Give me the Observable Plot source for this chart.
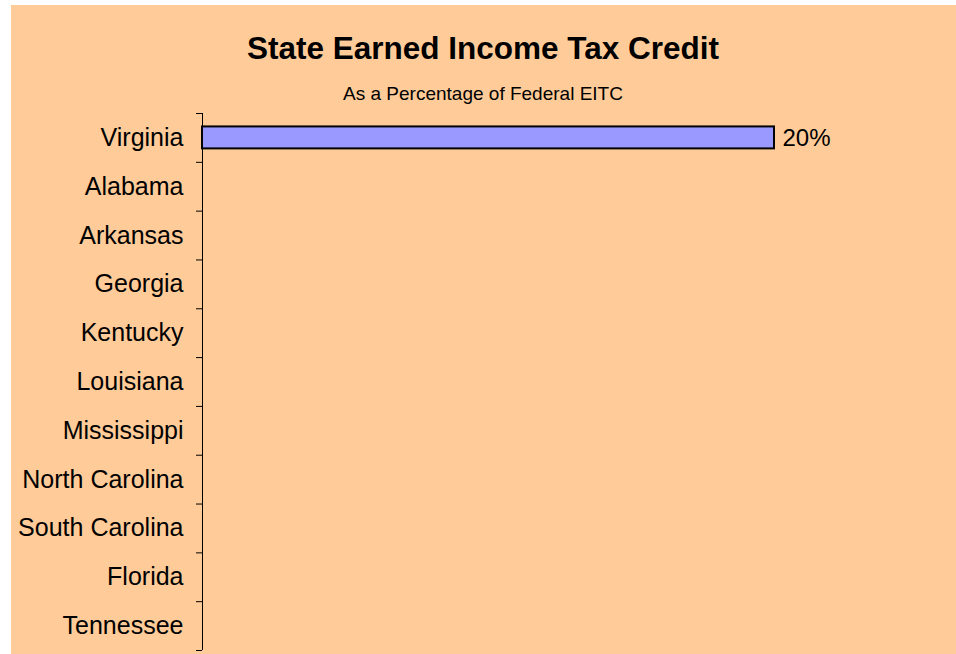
<!DOCTYPE html>
<html>
<head>
<meta charset="utf-8">
<script src="https://cdn.jsdelivr.net/npm/d3@7"></script>
<script src="https://cdn.jsdelivr.net/npm/@observablehq/plot@0.6"></script>
<style>
  html, body { margin: 0; padding: 0; background: #ffffff; width: 956px; height: 654px; overflow: hidden; }
  #wrap { position: absolute; left: 11px; top: 5px; width: 945px; height: 649px; background: #FFCC99; }
  #title { position: absolute; left: 0; top: 0; width: 966px; font: bold 31.5px "Liberation Sans", Arial, sans-serif; line-height: 30px; text-align: center; color: #000; }
  #subtitle { position: absolute; left: 0; top: 0; width: 966px; font: 19px "Liberation Sans", Arial, sans-serif; line-height: 19px; text-align: center; color: #000; }
  #chart { position: absolute; left: 0; top: 100px; }
</style>
</head>
<body>
<div id="wrap"></div>
<div id="title" style="top:33px">State Earned Income Tax Credit</div>
<div id="subtitle" style="top:84px">As a Percentage of Federal EITC</div>
<div id="chart"></div>
<script>
const states = ["Virginia", "Alabama", "Arkansas", "Georgia", "Kentucky", "Louisiana", "Mississippi", "North Carolina", "South Carolina", "Florida", "Tennessee"];
const credits = [0.20, 0, 0, 0, 0, 0, 0, 0, 0, 0, 0];
const valueLabels = ["20%", "", "", "", "", "", "", "", "", "", ""];

const data = states.map((s, i) => ({state: s, value: credits[i], label: valueLabels[i]}));

const W = 956, H = 554, mt = 13, mb = 4, ml = 202, mr = 182;
const step = (H - mt - mb) / states.length;

const chart = Plot.plot({
  width: W,
  height: H,
  marginTop: mt,
  marginBottom: mb,
  marginLeft: ml,
  marginRight: mr,
  style: {background: "transparent", fontFamily: "'Liberation Sans', Arial, sans-serif", fontSize: "25px", color: "#000"},
  x: {domain: [0, 0.2], axis: null},
  y: {domain: states, paddingInner: 0.55, paddingOuter: 0.275, round: false, axis: null, label: null},
  marks: [
    Plot.barX(data.filter(d => d.value > 0), {x: "value", y: "state", fill: "#9999FF", stroke: "#000", strokeWidth: 2}),
    Plot.ruleX([0], {stroke: "#000", strokeWidth: 1}),
    Plot.axisY({tickSize: 0, tickPadding: 19, fontSize: 25, fill: "#000", label: null}),
    Plot.axisY({tickSize: 6, tickFormat: () => "", dy: -step / 2, stroke: "#000", strokeOpacity: 1, label: null}),
    Plot.axisY({ticks: [states[states.length - 1]], tickSize: 6, tickFormat: () => "", dy: step / 2, stroke: "#000", strokeOpacity: 1, label: null}),
    Plot.text(data.filter(d => d.label), {x: "value", y: "state", text: "label", textAnchor: "start", dx: 8, fontSize: 24, fill: "#000"})
  ]
});
document.getElementById("chart").appendChild(chart);
</script>
</body>
</html>
